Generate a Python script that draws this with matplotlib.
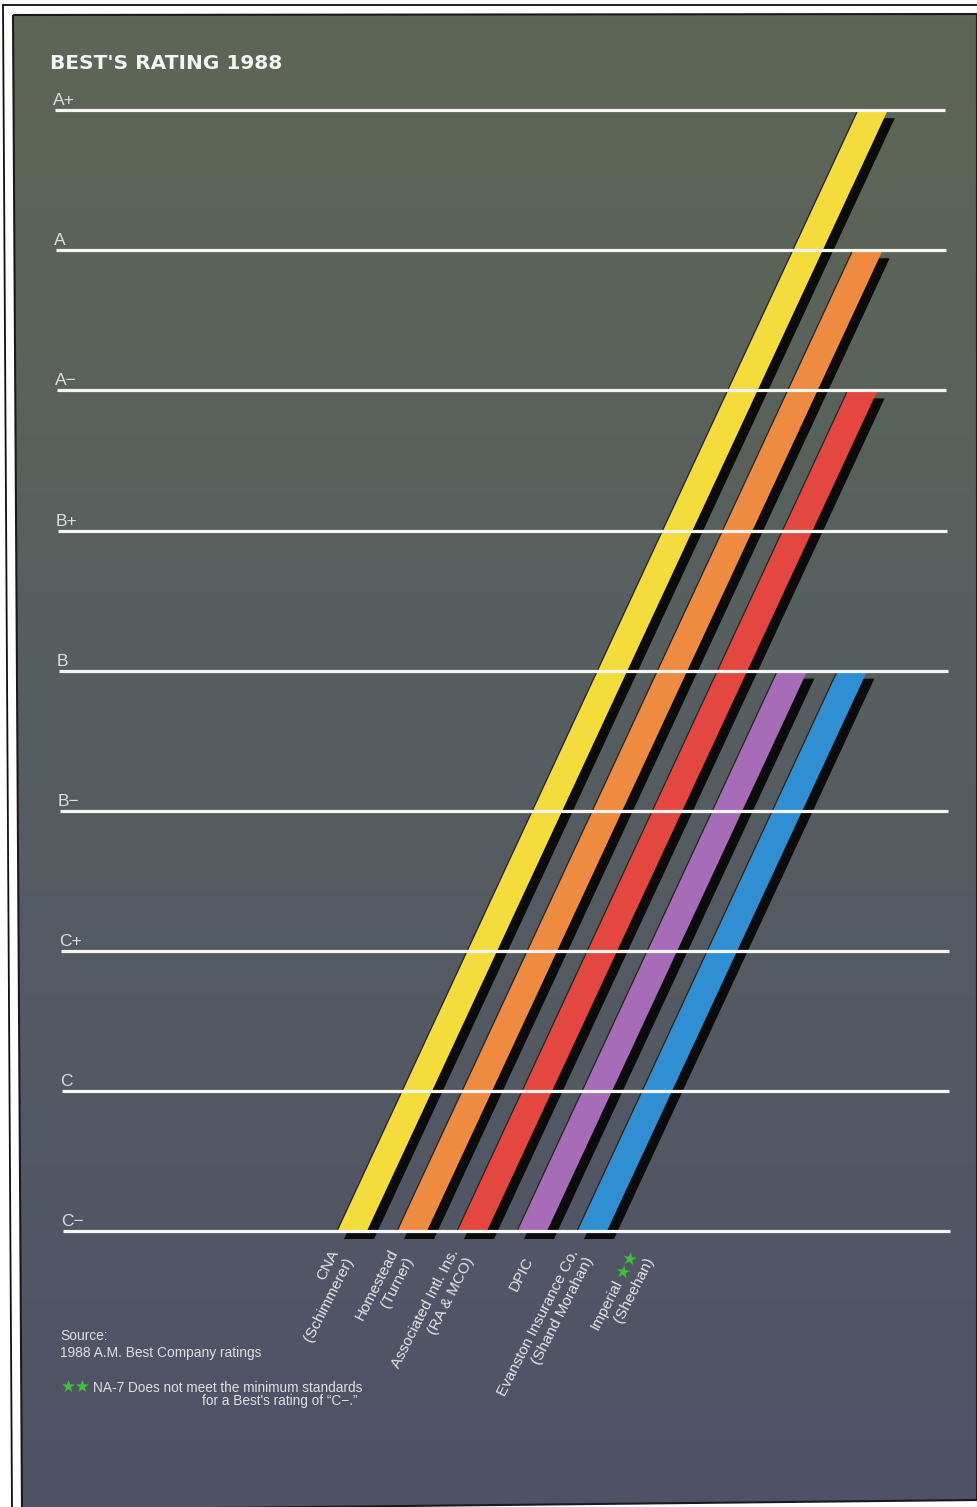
import numpy as np
import matplotlib
matplotlib.use("Agg")
import matplotlib.pyplot as plt
from matplotlib.patches import Polygon
from matplotlib.colors import LinearSegmentedColormap

# ---------------- data ----------------
ratings = ["C\u2212", "C", "C+", "B\u2212", "B", "B+", "A\u2212", "A", "A+"]
company_line1 = ["CNA", "Homestead", "Associated Intl. Ins.", "", "Evanston Insurance Co.", "Imperial"]
company_line2 = ["(Schimmerer)", "(Turner)", "(RA & MCO)", "DPIC", "(Shand Morahan)", "(Sheehan)"]
company_rating = ["A+", "A", "A\u2212", "B", "B", None]   # None = NA-7 (not rated)
bar_colors = ["#f3dc3c", "#ee8b40", "#e3473f", "#a66cb8", "#2f8fd2"]
title = "BEST'S RATING 1988"
source_lines = ["Source:", "1988 A.M. Best Company ratings"]
note_lines = ["NA-7 Does not meet the minimum standards",
              "for a Best's rating of \u201cC\u2212.\u201d"]

# ---------------- layout / style ----------------
W, H = 977, 1507
PX_PER_RATING = 140.1
BASE_PX = 1231            # pixel row of the C- line
SLANT = 65.1              # horizontal px per rating step
BAR_W = 30
BAR_X0 = 337
BAR_STEP = 60
FONT = "Liberation Sans"

fig = plt.figure(figsize=(W / 100, H / 100), dpi=100, facecolor="white")

# background / frame axes in pixel coordinates
bg = fig.add_axes([0, 0, 1, 1])
bg.set_xlim(0, W)
bg.set_ylim(H, 0)
bg.axis("off")
panel = Polygon([(13, 15), (W, 14), (W, 1500), (22, 1510)], closed=True,
                fc="none", ec="#1a1a1a", lw=1.5, zorder=3)
bg.add_patch(panel)
cmap = LinearSegmentedColormap.from_list(
    "bgc", [(0.0, "#5e6656"), (0.45, "#575e60"), (1.0, "#4f5268")])
grad = np.linspace(0, 1, 256).reshape(-1, 1)
im = bg.imshow(grad, cmap=cmap, extent=(0, W, 1510, 14), aspect="auto", zorder=1)
im.set_clip_path(panel)
bg.plot([3, 12], [6, H], color="#111111", lw=1.3, zorder=4)
bg.plot([3, W], [5, 5], color="#111111", lw=1.3, zorder=4)

# main chart axes: x in pixels, y in rating steps (0 = C-)
ax = fig.add_axes([0, 0, 1, 1], facecolor="none")
ax.set_xlim(0, W)
ax.set_ylim(-(H - BASE_PX) / PX_PER_RATING, BASE_PX / PX_PER_RATING)
ax.axis("off")

# rating lines + labels
for r, lab in enumerate(ratings):
    xs = 63 - 1.0 * r
    xe = 950 - 0.6 * r
    ax.plot([xs, xe], [r, r], color="#f6f6f0", lw=2.3, solid_capstyle="butt", zorder=6)
    ax.text(xs - 2, r + 5 / PX_PER_RATING, lab, ha="left", va="baseline",
            fontsize=12.5, color="#dedede", family=FONT, zorder=7)

# bars with drop shadows
sh_dx, sh_dy = 7, -8 / PX_PER_RATING
for i, rr in enumerate(company_rating):
    if rr is None:
        continue
    top = ratings.index(rr)
    x0 = BAR_X0 + BAR_STEP * i
    pts = np.array([(x0, 0), (x0 + BAR_W, 0),
                    (x0 + BAR_W + SLANT * top, top), (x0 + SLANT * top, top)])
    ax.add_patch(Polygon(pts + [sh_dx, sh_dy], closed=True, fc="#0b0b0b", ec="none", zorder=3))
    ax.add_patch(Polygon(pts, closed=True, fc=bar_colors[i], ec="none", zorder=4))
    ax.plot([x0, x0 + SLANT * top], [0, top], color="#2a2218", lw=0.9, zorder=4.5)

# company labels (rotated, right-aligned two-line blocks)
ANG = 63
th = np.deg2rad(ANG)
u = np.array([np.cos(th), np.sin(th)])       # along text
n = np.array([-np.sin(th), np.cos(th)])      # "up" in text frame
pt = 72 / 100
lbl_kw = dict(textcoords="offset points", rotation=ANG, rotation_mode="anchor",
              ha="right", va="center", fontsize=11, color="#e6e6e6", family=FONT, zorder=7)
for i in range(len(company_line2)):
    anchor = (BAR_X0 + BAR_STEP * i + 13, 0)
    p2 = np.array([0.0, -27.0])
    p1 = p2 + n * 17
    ax.annotate(company_line2[i], xy=anchor, xytext=tuple(p2 * pt), **lbl_kw)
    if company_rating[i] is None:
        ax.annotate("\u2605\u2605", xy=anchor, xytext=tuple(p1 * pt),
                    **{**lbl_kw, "color": "#3fc23a", "family": "DejaVu Sans", "fontsize": 12.5})
        p1 = p1 - u * 34
    if company_line1[i]:
        ax.annotate(company_line1[i], xy=anchor, xytext=tuple(p1 * pt), **lbl_kw)

# title
bg.text(50, 69, title, ha="left", va="baseline", fontsize=14.5, fontweight="bold",
        family="DejaVu Sans", color="#f4f4f4", zorder=7)

# source + note
bg.text(60, 1340, source_lines[0], ha="left", va="baseline", fontsize=9.9,
        family=FONT, color="#e0e0e0", zorder=7)
bg.text(60, 1357, source_lines[1], ha="left", va="baseline", fontsize=9.9,
        family=FONT, color="#e0e0e0", zorder=7)
bg.text(61, 1392, "\u2605\u2605", ha="left", va="baseline", fontsize=12,
        family="DejaVu Sans", color="#3fc23a", zorder=7)
bg.text(93, 1392, note_lines[0], ha="left", va="baseline", fontsize=9.8,
        family=FONT, color="#e0e0e0", zorder=7)
bg.text(358, 1405, note_lines[1], ha="right", va="baseline", fontsize=9.8,
        family=FONT, color="#e0e0e0", zorder=7)

fig.savefig("out.png", dpi=100, facecolor="white")
